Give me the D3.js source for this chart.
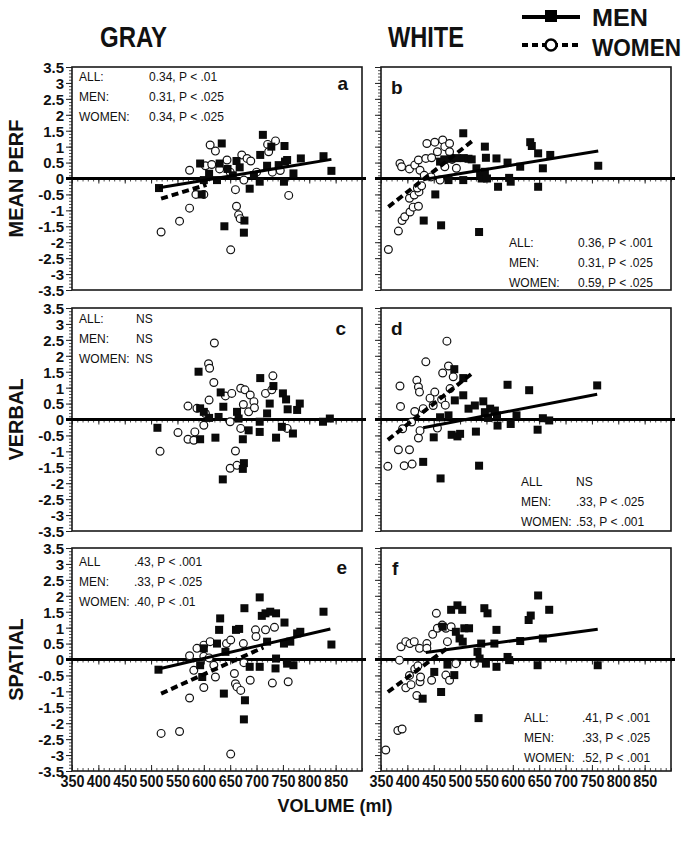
<!DOCTYPE html>
<html><head><meta charset="utf-8">
<script src="https://cdn.jsdelivr.net/npm/d3@7"></script>
<style>
body{margin:0;background:#fff}
svg{display:block}
text{font-family:'Liberation Sans',Arial,Helvetica,sans-serif;fill:#111}
</style>
</head><body>
<svg id="chart" width="684" height="845"></svg>
<script>
// ---------- tick labels / categories ----------
const xTickValues = [350,400,450,500,550,600,650,700,750,800,850];
const yTickValues = [3.5,3,2.5,2,1.5,1,0.5,0,-0.5,-1,-1.5,-2,-2.5,-3,-3.5];
const columnTitles = ["GRAY","WHITE"];
const rowTitles = ["MEAN PERF","VERBAL","SPATIAL"];
const panelLetters = ["a","b","c","d","e","f"];
const legendLabels = ["MEN","WOMEN"];
const xAxisTitle = "VOLUME (ml)";

// ---------- panel statistics text ----------
const aStats = [["ALL:","0.34, P < .01"],["MEN:","0.31, P < .025"],["WOMEN:","0.34, P < .025"]];
const bStats = [["ALL:","0.36, P < .001"],["MEN:","0.31, P < .025"],["WOMEN:","0.59, P < .025"]];
const cStats = [["ALL:","NS"],["MEN:","NS"],["WOMEN:","NS"]];
const dStats = [["ALL","NS"],["MEN:",".33, P < .025"],["WOMEN:",".53, P < .001"]];
const eStats = [["ALL",".43, P < .001"],["MEN:",".33, P < .025"],["WOMEN:",".40, P < .01"]];
const fStats = [["ALL:",".41, P < .001"],["MEN:",".33, P < .025"],["WOMEN:",".52, P < .001"]];

// ---------- data: [volume ml, z-score] ----------
const aMen = [[515,-0.3],[593,0.47],[596,-0.5],[600,-0.05],[610,0.15],[625,-0.05],[630,0.47],[634,1.1],[639,-1.5],[645,0.3],[655,0.1],[662,0.55],[668,0.35],[677,-1.32],[676,-1.7],[687,-0.32],[695,0.1],[706,-0.1],[707,0.74],[712,1.37],[720,0.4],[728,1.0],[742,0.42],[753,1.02],[752,-0.1],[754,0.53],[758,0.58],[770,0.16],[784,0.63],[827,0.7],[842,0.24]];
const aWomen = [[519,-1.68],[554,-1.34],[573,-0.93],[573,0.26],[585,-0.5],[600,-0.5],[603,0.4],[612,1.05],[615,0.44],[622,0.86],[630,0.3],[644,0.58],[650,0.2],[660,-0.35],[662,-0.87],[666,-1.14],[669,-1.26],[651,-2.24],[672,0.74],[676,-0.05],[682,0.63],[689,0.55],[700,0.2],[721,1.07],[723,0.84],[736,1.18],[730,0.2],[745,0.25],[761,-0.53]];
const bMen = [[431,-1.32],[453,-0.5],[462,0.53],[464,-1.47],[470,0.6],[478,-0.05],[482,0.62],[494,0.64],[506,1.42],[506,-0.05],[507,0.64],[516,0.62],[522,0.6],[531,0.32],[536,-1.68],[538,0.1],[541,0.0],[547,0.21],[547,1.0],[549,0.65],[551,0.0],[569,0.63],[572,-0.26],[590,0.5],[593,0.02],[596,-0.1],[614,0.37],[633,1.14],[636,1.02],[648,0.79],[648,-0.26],[657,0.32],[671,0.74],[762,0.4]];
const bWomen = [[364,-2.23],[383,-1.65],[390,-1.32],[395,-1.2],[405,-1.05],[411,-0.9],[421,-0.87],[404,-0.62],[413,-0.52],[422,-0.42],[419,-0.3],[427,-0.23],[386,0.47],[389,0.37],[404,0.3],[414,0.42],[421,0.58],[424,0.26],[435,0.63],[437,1.1],[446,0.65],[452,1.14],[457,0.84],[462,-0.05],[467,1.21],[471,1.0],[471,0.37],[480,1.1],[480,0.84],[485,0.6],[493,0.32],[445,0.05],[432,0.1]];
const cMen = [[512,-0.26],[590,1.5],[593,-0.62],[593,0.35],[600,0.24],[610,0.05],[622,-0.57],[628,0.08],[632,0.85],[637,0.4],[636,-1.88],[663,0.24],[666,0.03],[674,-0.62],[676,-1.37],[674,-1.55],[685,-0.34],[706,-0.39],[706,-0.07],[707,1.3],[720,0.19],[725,0.5],[732,1.05],[737,-0.57],[748,-0.23],[750,0.82],[756,0.63],[759,0.32],[769,-0.44],[777,0.3],[782,0.5],[826,-0.07],[839,0.03]];
const cWomen = [[517,-1.0],[551,-0.41],[570,-0.62],[570,0.42],[581,-0.65],[583,-0.39],[587,0.35],[600,-0.18],[603,0.19],[610,0.61],[609,1.75],[611,1.61],[619,1.16],[620,2.4],[641,0.74],[650,-0.07],[653,0.82],[660,-0.99],[650,-1.53],[663,-1.44],[670,0.98],[678,0.93],[670,-0.28],[675,0.47],[685,0.24],[688,0.77],[695,0.56],[696,0.37],[717,0.82],[731,1.37],[729,0.93],[758,-0.28]];
const dMen = [[430,-1.33],[463,-1.85],[450,-0.56],[462,0.07],[478,0.13],[484,-0.48],[495,-0.53],[500,-0.45],[489,1.58],[506,1.3],[506,0.76],[490,0.6],[516,0.34],[528,0.44],[530,-0.38],[536,-1.45],[544,0.57],[547,0.23],[557,0.34],[566,0.28],[571,-0.19],[570,0.13],[590,1.09],[596,-0.14],[607,0.13],[631,0.92],[647,-0.32],[657,0.04],[669,-0.03],[760,1.07],[553,0.05]];
const dWomen = [[363,-1.47],[386,1.05],[387,0.41],[383,-0.95],[394,-1.45],[404,-0.95],[409,-1.4],[391,-0.29],[408,-0.08],[414,0.25],[418,1.23],[421,1.02],[423,0.86],[421,-0.58],[424,-0.35],[435,1.81],[430,0.34],[443,0.67],[452,0.86],[449,0.44],[457,-0.27],[467,1.46],[475,2.46],[478,1.68],[481,0.97],[465,0.63],[472,0.45],[487,1.34]];
const eMen = [[514,-0.32],[597,-0.55],[593,-0.18],[600,0.35],[625,0.5],[629,0.93],[631,1.29],[638,-1.07],[641,0.24],[661,0.93],[667,0.96],[677,1.61],[678,-1.28],[676,-1.88],[687,-0.23],[706,-0.23],[706,1.95],[710,1.37],[717,1.45],[720,0.56],[726,1.5],[737,1.45],[736,-0.28],[737,0.03],[753,1.16],[752,0.5],[758,-0.13],[764,0.56],[770,-0.18],[777,0.82],[783,0.87],[827,1.5],[842,0.47]];
const eWomen = [[519,-2.32],[554,-2.26],[573,-1.21],[573,0.12],[581,-0.34],[587,0.35],[600,0.45],[600,0.1],[600,-0.88],[610,0.05],[612,0.56],[619,-0.18],[622,-0.55],[643,0.5],[651,0.61],[651,-2.97],[658,-0.44],[660,-0.76],[663,-0.86],[670,-0.97],[675,0.5],[676,-0.1],[688,-0.65],[698,0.93],[699,0.72],[717,0.93],[734,1.01],[730,-0.74],[760,-0.7]];
const fMen = [[429,-1.23],[464,-1.02],[451,-0.39],[476,-0.16],[489,-0.49],[467,1.03],[483,1.56],[495,1.7],[504,1.56],[492,0.87],[499,0.66],[508,0.98],[517,0.98],[505,0.56],[535,-1.84],[533,0.24],[537,0.03],[546,1.61],[552,1.45],[549,-0.13],[569,0.93],[565,0.5],[569,-0.23],[590,0.08],[593,-0.02],[614,0.58],[630,1.24],[634,1.38],[648,2.01],[647,-0.18],[657,0.66],[669,1.56],[761,-0.18],[540,0.5]];
const fWomen = [[359,-2.84],[382,-2.23],[390,-2.18],[385,-0.02],[388,0.4],[397,0.56],[405,0.5],[413,0.56],[423,0.35],[437,0.5],[437,0.35],[397,-0.89],[407,-0.79],[418,-1.13],[404,-0.5],[414,-0.3],[420,-0.2],[424,-0.7],[425,-0.55],[446,-0.65],[448,0.79],[455,1.45],[457,0.98],[466,1.08],[473,0.98],[483,1.03],[476,0.56],[473,-0.49],[480,-0.65],[492,-0.13],[527,-0.13]];

// ---------- regression lines (end points) ----------
const aMenFit = [[515,-0.29],[842,0.6]];
const aWomenFit = [[519,-0.63],[605,-0.2]];
const bMenFit = [[431,-0.03],[762,0.86]];
const bWomenFit = [[364,-0.89],[528,1.24]];
const cMenFit = [];
const cWomenFit = [];
const dMenFit = [[430,-0.26],[760,0.79]];
const dWomenFit = [[363,-0.64],[526,1.49]];
const eMenFit = [[514,-0.3],[840,0.96]];
const eWomenFit = [[519,-1.07],[713,0.38]];
const fMenFit = [[435,0.22],[761,0.95]];
const fWomenFit = [[363,-1.02],[475,0.35]];

// ---------- assemble panels ----------
const panelMen = [aMen,bMen,cMen,dMen,eMen,fMen];
const panelWomen = [aWomen,bWomen,cWomen,dWomen,eWomen,fWomen];
const panelMenFit = [aMenFit,bMenFit,cMenFit,dMenFit,eMenFit,fMenFit];
const panelWomenFit = [aWomenFit,bWomenFit,cWomenFit,dWomenFit,eWomenFit,fWomenFit];
const panelStats = [aStats,bStats,cStats,dStats,eStats,fStats];

// layout
const cols = [{x0:72,x1:362},{x0:381,x1:671}];
const rows = [{y0:67,y1:290},{y0:308,y1:531},{y0:548,y1:771}];
const statPos = [
  {lx:79, vx:149, y:81},
  {lx:509, vx:578, y:247},
  {lx:79, vx:136, y:323},
  {lx:521, vx:576, y:486},
  {lx:79, vx:134, y:566},
  {lx:524, vx:582, y:722}
];
const letterPos = [
  {x:348,y:90,anchor:"end"},{x:391,y:94,anchor:"start"},
  {x:346,y:335,anchor:"end"},{x:391,y:335,anchor:"start"},
  {x:347,y:574,anchor:"end"},{x:392,y:575,anchor:"start"}
];

const svg = d3.select("#chart");
const fmt = d => String(d);
const minorY = d3.range(-35,36).map(i=>i/10);
const minorX = d3.range(35,91).map(i=>i*10);

for (let p=0;p<6;p++){
  const ci = p%2, ri = Math.floor(p/2);
  const {x0,x1} = cols[ci], {y0,y1} = rows[ri];
  const x = d3.scaleLinear().domain([350,900]).range([x0,x1]);
  const y = d3.scaleLinear().domain([-3.5,3.5]).range([y1,y0]);
  const g = svg.append("g");

  // y axis: minor + major ticks
  g.append("g").attr("transform",`translate(${x0},0)`)
    .call(d3.axisLeft(y).tickValues(minorY).tickSize(3).tickFormat(""))
    .call(s=>s.select(".domain").remove())
    .call(s=>s.selectAll("line").attr("stroke","#222").attr("stroke-width",0.8));
  const yMaj = g.append("g").attr("transform",`translate(${x0},0)`)
    .call(d3.axisLeft(y).tickValues(yTickValues).tickSize(6).tickPadding(2).tickFormat(ci===0?fmt:""))
    .call(s=>s.select(".domain").remove())
    .call(s=>s.selectAll("line").attr("stroke","#222").attr("stroke-width",1));
  yMaj.selectAll("text").attr("font-size",15).attr("font-weight","bold")
    .attr("fill","#111").attr("dy","0.36em")
    .attr("font-family","'Liberation Sans',Arial,sans-serif");

  // frame
  g.append("rect").attr("x",x0).attr("y",y0).attr("width",x1-x0).attr("height",y1-y0)
    .attr("fill","none").attr("stroke","#1a1a1a").attr("stroke-width",1.6);

  // zero line with ticks
  g.append("g").attr("transform",`translate(0,${y(0)})`)
    .call(d3.axisBottom(x).tickValues(minorX).tickSize(3).tickFormat(""))
    .call(s=>s.select(".domain").remove())
    .call(s=>s.selectAll("line").attr("stroke","#222").attr("stroke-width",0.8));
  g.append("g").attr("transform",`translate(0,${y(0)})`)
    .call(d3.axisBottom(x).tickValues(xTickValues).tickSize(5).tickFormat(""))
    .call(s=>s.select(".domain").remove())
    .call(s=>s.selectAll("line").attr("stroke","#222").attr("stroke-width",1));
  g.append("line").attr("x1",x0-6).attr("x2",x1+4).attr("y1",y(0)).attr("y2",y(0))
    .attr("stroke","#000").attr("stroke-width",3.2);

  // bottom axis on last row
  if (ri===2){
    g.append("g").attr("transform",`translate(0,${y1})`)
      .call(d3.axisBottom(x).tickValues(minorX).tickSizeInner(-3).tickSizeOuter(0).tickFormat(""))
      .call(s=>s.select(".domain").remove())
      .call(s=>s.selectAll("line").attr("stroke","#222").attr("stroke-width",0.8));
    const xb = g.append("g").attr("transform",`translate(0,${y1})`)
      .call(d3.axisBottom(x).tickValues(xTickValues).tickSizeInner(-6).tickSizeOuter(0).tickPadding(5).tickFormat(fmt))
      .call(s=>s.select(".domain").remove())
      .call(s=>s.selectAll("line").attr("stroke","#222").attr("stroke-width",1));
    xb.selectAll("text").attr("font-size",16).attr("font-weight","bold").attr("fill","#111")
      .attr("textLength",24).attr("lengthAdjust","spacingAndGlyphs")
      .attr("font-family","'Liberation Sans',Arial,sans-serif");
  }

  // women circles
  g.append("g").selectAll("circle").data(panelWomen[p]).join("circle")
    .attr("cx",d=>x(d[0])).attr("cy",d=>y(d[1])).attr("r",3.9)
    .attr("fill","#fff").attr("stroke","#111").attr("stroke-width",1.2);
  // men squares
  const sq = 8;
  g.append("g").selectAll("rect").data(panelMen[p]).join("rect")
    .attr("x",d=>x(d[0])-sq/2).attr("y",d=>y(d[1])-sq/2).attr("width",sq).attr("height",sq)
    .attr("fill","#0a0a0a");

  // fit lines
  const line = d3.line().x(d=>x(d[0])).y(d=>y(d[1]));
  if (panelMenFit[p].length)
    g.append("path").attr("d",line(panelMenFit[p])).attr("stroke","#000").attr("stroke-width",3).attr("fill","none");
  if (panelWomenFit[p].length)
    g.append("path").attr("d",line(panelWomenFit[p])).attr("stroke","#000").attr("stroke-width",4)
      .attr("stroke-dasharray","7,4").attr("fill","none");

  // stats text
  const sp = statPos[p];
  panelStats[p].forEach((r,i)=>{
    g.append("text").attr("x",sp.lx).attr("y",sp.y+i*20).attr("font-size",12).text(r[0]);
    g.append("text").attr("x",sp.vx).attr("y",sp.y+i*20).attr("font-size",12).text(r[1]);
  });
  // panel letter
  const lp = letterPos[p];
  g.append("text").attr("x",lp.x).attr("y",lp.y).attr("text-anchor",lp.anchor)
    .attr("font-size",19).attr("font-weight","bold").text(panelLetters[p]);
}

// column titles
svg.append("text").attr("x",100).attr("y",47).attr("font-size",29).attr("font-weight","bold")
  .attr("textLength",67).attr("lengthAdjust","spacingAndGlyphs").text(columnTitles[0]);
svg.append("text").attr("x",388).attr("y",47).attr("font-size",29).attr("font-weight","bold")
  .attr("textLength",76).attr("lengthAdjust","spacingAndGlyphs").text(columnTitles[1]);

// row titles
rows.forEach((r,i)=>{
  const cy = (r.y0+r.y1)/2;
  svg.append("text").attr("transform",`translate(23,${cy}) rotate(-90)`)
    .attr("text-anchor","middle").attr("font-size",20).attr("font-weight","bold").text(rowTitles[i]);
});

// x axis title
svg.append("text").attr("x",335).attr("y",812).attr("text-anchor","middle")
  .attr("font-size",18).attr("font-weight","bold").text(xAxisTitle);

// legend
const lg = svg.append("g");
lg.append("line").attr("x1",522).attr("x2",580).attr("y1",17).attr("y2",17).attr("stroke","#000").attr("stroke-width",4);
lg.append("rect").attr("x",545).attr("y",10).attr("width",12).attr("height",12).attr("fill","#000");
lg.append("line").attr("x1",522).attr("x2",580).attr("y1",45).attr("y2",45).attr("stroke","#000").attr("stroke-width",4).attr("stroke-dasharray","6,4");
lg.append("circle").attr("cx",551).attr("cy",45).attr("r",5.5).attr("fill","#fff").attr("stroke","#000").attr("stroke-width",2.5);
lg.append("text").attr("x",592).attr("y",26).attr("font-size",23).attr("font-weight","bold")
  .attr("textLength",56).attr("lengthAdjust","spacingAndGlyphs").text(legendLabels[0]);
lg.append("text").attr("x",592).attr("y",56).attr("font-size",23).attr("font-weight","bold")
  .attr("textLength",89).attr("lengthAdjust","spacingAndGlyphs").text(legendLabels[1]);
</script>
</body></html>
